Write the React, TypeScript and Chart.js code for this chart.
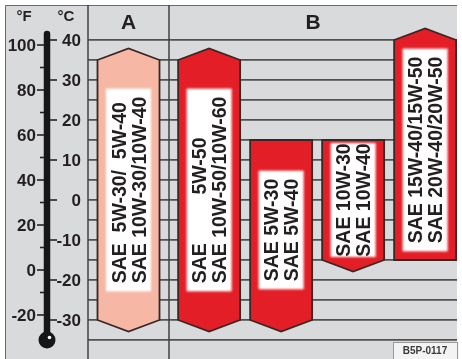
import { useEffect, useRef } from 'react';
import { Chart, registerables } from 'chart.js';

Chart.register(...registerables);

// ---------------- data ----------------
const categories = ['A', 'B', 'B', 'B', 'B'];
const lowTemps = [-30, -30, -30, -15, -15];
const highTemps = [35, 35, 15, 15, 40];
const arrowAbove = [true, true, false, false, true];
const arrowBelow = [true, true, true, true, false];
const labelLine1 = ['SAE  5W-30/  5W-40', 'SAE         5W-50', 'SAE 5W-30', 'SAE 10W-30', 'SAE 15W-40/15W-50'];
const labelLine2 = ['SAE 10W-30/10W-40', 'SAE 10W-50/10W-60', 'SAE 5W-40', 'SAE 10W-40', 'SAE 20W-40/20W-50'];
const columnHeaders = ['A', 'B'];
const celsiusTicks = [40, 30, 20, 10, 0, -10, -20, -30];
const fahrenheitTicks = [100, 90, 80, 70, 60, 50, 40, 30, 20, 10, 0, -10, -20];
const fahrenheitLabelEvery = 20;
const gridTemps = [40, 35, 30, 25, 20, 15, 10, 5, 0, -5, -10, -15, -20, -25, -30, -35];
const footerCode = 'B5P-0117';

// ---------------- styling / layout ----------------
const BG = '#D9DADC';
const GRID = '#525252';
const INK = '#231f20';
const OUTLINE = '#3a2624';
const RED = '#E31E26';
const PINK = '#F6B8A4';
const FONT = '"Liberation Sans", Arial, sans-serif';

const Y_MIN = -39.25;
const Y_MAX = 48.75;
// printed Fahrenheit scale (as drawn on the thermometer)
const F_AT_0C = 31.11;
const F_PER_C = 1.7778;
const X_MIN = -0.5625;
const X_MAX = 4.5625;
const COLUMN_SPLIT = 0.5625;
const B_SHIFT = 0.12;
const ARROW_DEG = 2.9;
const TUBE_TOP_C = 41.5;
const BULB_C = -35;

const oilPlugin = {
  id: 'oilChart',
  beforeDraw(chart: any) {
    const { ctx, width, height, chartArea } = chart;
    ctx.save();
    ctx.fillStyle = '#ffffff';
    ctx.fillRect(0, 0, width, height);
    ctx.fillStyle = BG;
    ctx.fillRect(5, 5, chartArea.right - 5, height - 5);
    ctx.strokeStyle = '#6a6a6a';
    ctx.lineWidth = 1;
    ctx.beginPath();
    ctx.moveTo(5.5, height);
    ctx.lineTo(5.5, 5.5);
    ctx.lineTo(chartArea.right, 5.5);
    ctx.stroke();
    ctx.restore();
  },
  afterDatasetsDraw(chart: any) {
    const { ctx, chartArea, scales, height } = chart;
    const yC = scales.y;
    const yF = scales.yF;
    const xS = scales.x;
    ctx.save();

    // column dividers
    ctx.strokeStyle = '#404040';
    ctx.lineWidth = 1.5;
    [chartArea.left, xS.getPixelForValue(COLUMN_SPLIT)].forEach((px: number) => {
      ctx.beginPath();
      ctx.moveTo(px, 5);
      ctx.lineTo(px, height);
      ctx.stroke();
    });

    // headers
    const headY = (5 + yC.getPixelForValue(40)) / 2 + 1;
    ctx.fillStyle = INK;
    ctx.textAlign = 'center';
    ctx.textBaseline = 'middle';
    ctx.font = `bold 21px ${FONT}`;
    ctx.fillText(columnHeaders[0], xS.getPixelForValue((X_MIN + COLUMN_SPLIT) / 2), headY);
    ctx.fillText(columnHeaders[1], xS.getPixelForValue((COLUMN_SPLIT + X_MAX) / 2), headY);
    ctx.font = `bold 15px ${FONT}`;
    ctx.fillText('°F', 24, 17);
    ctx.fillText('°C', 66, 17);

    // bars
    const meta = chart.getDatasetMeta(0);
    meta.data.forEach((el: any, i: number) => {
      const { x, y, base, width } = el.getProps(['x', 'y', 'base', 'width'], true);
      const top = Math.min(y, base);
      const bottom = Math.max(y, base);
      const l = x - width / 2;
      const r = x + width / 2;
      const tipTop = yC.getPixelForValue(highTemps[i] + ARROW_DEG);
      const tipBot = yC.getPixelForValue(lowTemps[i] - ARROW_DEG);
      ctx.beginPath();
      ctx.moveTo(l, top);
      if (arrowAbove[i]) ctx.lineTo(x, tipTop);
      ctx.lineTo(r, top);
      ctx.lineTo(r, bottom);
      if (arrowBelow[i]) ctx.lineTo(x, tipBot);
      ctx.lineTo(l, bottom);
      ctx.closePath();
      ctx.fillStyle = categories[i] === 'A' ? PINK : RED;
      ctx.fill();
      ctx.strokeStyle = OUTLINE;
      ctx.lineWidth = 1.8;
      ctx.lineJoin = 'miter';
      ctx.stroke();

      // label box + text (rotated)
      const midY = (top + bottom) / 2;
      ctx.save();
      ctx.translate(x, midY);
      ctx.rotate(-Math.PI / 2);
      ctx.font = `bold 19.5px ${FONT}`;
      const w = Math.max(ctx.measureText(labelLine1[i]).width, ctx.measureText(labelLine2[i]).width);
      const boxLen = Math.min(w + 16, bottom - top - 6);
      ctx.save();
      ctx.filter = 'blur(1.3px)';
      ctx.fillStyle = '#ffffff';
      ctx.fillRect(-boxLen / 2, -22.5, boxLen, 45);
      ctx.restore();
      ctx.fillStyle = '#ffffff';
      ctx.fillRect(-boxLen / 2 + 2, -20.5, boxLen - 4, 41);
      ctx.fillStyle = INK;
      ctx.textAlign = 'left';
      ctx.textBaseline = 'alphabetic';
      ctx.fillText(labelLine1[i], -w / 2, -3);
      ctx.fillText(labelLine2[i], -w / 2, 17);
      ctx.restore();
    });

    // thermometer
    const tx = 47;
    const bulbY = yC.getPixelForValue(BULB_C);
    ctx.strokeStyle = '#161616';
    ctx.fillStyle = '#161616';
    ctx.lineWidth = 6.5;
    ctx.lineCap = 'round';
    ctx.beginPath();
    ctx.moveTo(tx, yC.getPixelForValue(TUBE_TOP_C));
    ctx.lineTo(tx, bulbY);
    ctx.stroke();
    ctx.beginPath();
    ctx.arc(tx, bulbY, 8.5, 0, Math.PI * 2);
    ctx.fill();
    ctx.fillStyle = '#ffffff';
    ctx.beginPath();
    ctx.arc(tx + 2.5, bulbY - 2.5, 1.8, 0, Math.PI * 2);
    ctx.fill();

    ctx.lineCap = 'butt';
    ctx.lineWidth = 1.6;
    ctx.strokeStyle = '#222';
    ctx.fillStyle = INK;
    ctx.font = `bold 17px ${FONT}`;
    ctx.textAlign = 'right';
    ctx.textBaseline = 'middle';
    fahrenheitTicks.forEach((f) => {
      const py = yF.getPixelForValue(f);
      const major = f % fahrenheitLabelEvery === 0;
      ctx.beginPath();
      ctx.moveTo(major ? 37 : 40, py);
      ctx.lineTo(44, py);
      ctx.stroke();
      if (major) ctx.fillText(String(f), 36, py + 1);
    });
    celsiusTicks.forEach((c) => {
      const py = yC.getPixelForValue(c);
      ctx.beginPath();
      ctx.moveTo(50, py);
      ctx.lineTo(57, py);
      ctx.stroke();
      ctx.fillText(String(c), 81, py + 1);
    });

    // footer code box
    ctx.fillStyle = '#f3f3f3';
    ctx.fillRect(393, 342, chartArea.right - 393 + 2, height - 342);
    ctx.strokeStyle = '#9a9a9a';
    ctx.lineWidth = 1;
    ctx.strokeRect(393.5, 342.5, chartArea.right - 393, height - 342);
    ctx.fillStyle = '#3a3a3a';
    ctx.font = `bold 10px ${FONT}`;
    ctx.textAlign = 'center';
    ctx.fillText(footerCode, 425, 351);

    ctx.restore();
  },
};

export default function App() {
  const canvasRef = useRef<HTMLCanvasElement | null>(null);

  useEffect(() => {
    const canvas = canvasRef.current;
    if (!canvas) return;
    const chart = new Chart(canvas, {
      type: 'bar',
      data: {
        datasets: [
          {
            data: categories.map((c, i) => ({
              x: i + (c === 'B' ? B_SHIFT : 0),
              y: [lowTemps[i], highTemps[i]],
            })) as any,
            backgroundColor: 'rgba(0,0,0,0)',
            borderWidth: 0,
            barThickness: 62,
          },
        ],
      },
      options: {
        animation: false,
        responsive: false,
        events: [],
        layout: { padding: { left: 88, right: 5, top: 5, bottom: 2 } },
        plugins: { legend: { display: false }, tooltip: { enabled: false } },
        scales: {
          x: { type: 'linear', min: X_MIN, max: X_MAX, offset: false, display: false },
          y: {
            type: 'linear',
            min: Y_MIN,
            max: Y_MAX,
            position: 'left',
            ticks: { display: false },
            afterBuildTicks: (axis: any) => {
              axis.ticks = gridTemps.map((v) => ({ value: v }));
            },
            grid: { color: GRID, lineWidth: 1.8, drawTicks: false },
            border: { display: false },
          },
          yF: {
            type: 'linear',
            position: 'left',
            min: F_AT_0C + F_PER_C * Y_MIN,
            max: F_AT_0C + F_PER_C * Y_MAX,
            display: false,
          },
        },
      } as any,
      plugins: [oilPlugin],
    });
    return () => chart.destroy();
  }, []);

  return (
    <div style={{ position: 'absolute', left: 0, top: 0, width: 462, height: 359, background: '#fff' }}>
      <canvas ref={canvasRef} width={462} height={359} style={{ display: 'block' }} />
    </div>
  );
}
